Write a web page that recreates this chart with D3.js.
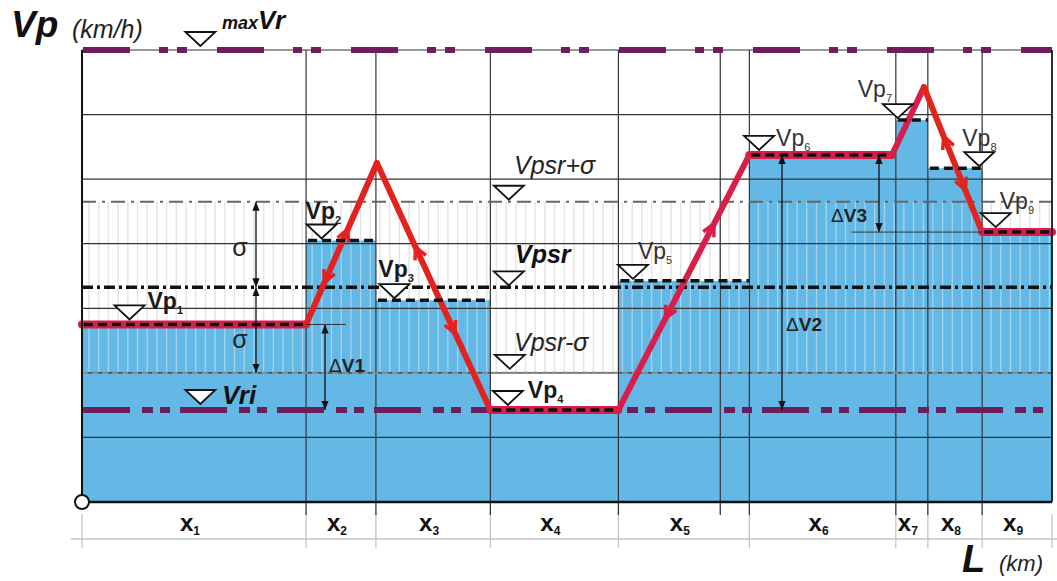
<!DOCTYPE html>
<html>
<head>
<meta charset="utf-8">
<script src="https://cdn.jsdelivr.net/npm/d3@7"></script>
<style>
body { margin: 0; background: #fff; }
text { font-family: "Liberation Sans", Arial, sans-serif; }
</style>
</head>
<body>
<svg id="chart" width="1057" height="581"></svg>
<script>
// section borders along the road (km) and the extra grid line inside x5
var bounds = [0, 23.1, 30.3, 42.1, 55.3, 68.8, 83.9, 87.2, 92.8, 100];
var extraGrid = [65.8];
var sections = ["1", "2", "3", "4", "5", "6", "7", "8", "9"];
// design speed of each section Vp_i (km/h)
var vp = [55, 81, 62.5, 28.5, 68.5, 107.5, 118.3, 103.4, 83.6];
// operating speed profile (red line)
var speedL = [0, 23.1, 30.4, 42.1, 55.3, 68.8, 83.5, 86.8, 92.8, 100];
var speedV = [55, 55, 105, 28.5, 28.5, 107.5, 107.5, 128.5, 83.6, 83.6];
var gridV = [20, 40, 60, 80, 100, 120, 140];
var maxVr = 140, vri = 28.5, vpsr = 66.5, sigma = 26.5;
// where the Vp_i marks sit along L
var markL = [4.9, 24.7, 32.2, 43.9, 56.8, 69.8, 84.1, 92.5, 94.2];
// direction arrows on the speed profile: segment, position, sense
var arrows = [
  {seg: 1, t: 0.59, dir: 1}, {seg: 1, t: 0.26, dir: -1},
  {seg: 2, t: 0.34, dir: -1}, {seg: 2, t: 0.69, dir: 1},
  {seg: 4, t: 0.73, dir: 1}, {seg: 4, t: 0.36, dir: -1},
  {seg: 7, t: 0.34, dir: -1}, {seg: 7, t: 0.71, dir: 1}
];

var svg = d3.select("#chart");
var x = d3.scaleLinear().domain([0, 100]).range([82, 1052]);
var y = d3.scaleLinear().domain([0, 140]).range([502, 50]);

var purple = "#6e1d5d", blue = "#64b8e6";

// hatch band between Vpsr-sigma and Vpsr+sigma
var hatchX = d3.range(x(0) + 7, x(100), 9.7);
svg.append("g").selectAll("line").data(hatchX).enter().append("line")
  .attr("x1", d => d).attr("x2", d => d)
  .attr("y1", y(vpsr + sigma)).attr("y2", y(vpsr - sigma))
  .attr("stroke", "#d2d2d2").attr("stroke-width", 1.2);

// blue blocks Vp_i
svg.append("g").selectAll("rect").data(vp).enter().append("rect")
  .attr("x", (d, i) => x(bounds[i]))
  .attr("width", (d, i) => x(bounds[i + 1]) - x(bounds[i]))
  .attr("y", d => y(d))
  .attr("height", d => y(0) - y(d))
  .attr("fill", blue);

svg.append("g").selectAll("line").data(hatchX).enter().append("line")
  .attr("x1", d => d).attr("x2", d => d)
  .attr("y1", y(vpsr + sigma)).attr("y2", y(vpsr - sigma))
  .attr("stroke", "#fff").attr("stroke-opacity", 0.4).attr("stroke-width", 1.3);

// grid
svg.append("g").selectAll("line").data(gridV).enter().append("line")
  .attr("x1", x(0)).attr("x2", x(100))
  .attr("y1", d => y(d)).attr("y2", d => y(d))
  .attr("stroke", "#333").attr("stroke-width", 1.2);
svg.append("g").selectAll("line").data(bounds.concat(extraGrid)).enter().append("line")
  .attr("x1", d => x(d)).attr("x2", d => x(d))
  .attr("y1", y(140)).attr("y2", y(0))
  .attr("stroke", "#333").attr("stroke-width", 1.2);

// bottom distance axis with section labels
var axisG = svg.append("g");
axisG.append("line").attr("x1", 71).attr("x2", 1057).attr("y1", 539).attr("y2", 539)
  .attr("stroke", "#c4c4c4").attr("stroke-width", 1.5);
axisG.selectAll(".lt").data(bounds).enter().append("line")
  .attr("x1", d => x(d)).attr("x2", d => x(d)).attr("y1", 514).attr("y2", 548)
  .attr("stroke", "#c4c4c4").attr("stroke-width", 1.3);
axisG.selectAll(".dt").data(bounds.slice(1, 9).concat(extraGrid)).enter().append("line")
  .attr("x1", d => x(d)).attr("x2", d => x(d)).attr("y1", y(0)).attr("y2", 515)
  .attr("stroke", "#333").attr("stroke-width", 1.3);
var xl = axisG.selectAll(".xl").data(sections).enter().append("text")
  .attr("x", (d, i) => (x(bounds[i]) + x(bounds[i + 1])) / 2 - 4)
  .attr("y", 531).attr("text-anchor", "middle")
  .style("font-size", "24px").style("font-weight", "bold").attr("fill", "#111");
xl.append("tspan").text("x");
xl.append("tspan").attr("dy", 4).style("font-size", "12px").text(d => d);

// sigma band lines
svg.append("line").attr("x1", x(0)).attr("x2", x(100))
  .attr("y1", y(vpsr + sigma)).attr("y2", y(vpsr + sigma))
  .attr("stroke", "#666").attr("stroke-width", 2).attr("stroke-dasharray", "14,6,3,6");
svg.append("line").attr("x1", x(0)).attr("x2", x(100))
  .attr("y1", y(vpsr - sigma)).attr("y2", y(vpsr - sigma))
  .attr("stroke", "#8a8a8a").attr("stroke-width", 2.2).attr("stroke-dasharray", "6,4");
svg.append("line").attr("x1", x(0)).attr("x2", x(100))
  .attr("y1", y(vpsr)).attr("y2", y(vpsr))
  .attr("stroke", "#111").attr("stroke-width", 3.5).attr("stroke-dasharray", "11,4,3,4");

// purple limits maxVr and Vri
svg.append("line").attr("x1", x(0) + 1).attr("x2", x(100))
  .attr("y1", y(maxVr)).attr("y2", y(maxVr))
  .attr("stroke", purple).attr("stroke-width", 6).attr("stroke-dasharray", "47,29,9,9,10,30");
svg.append("line").attr("x1", x(0) + 1).attr("x2", x(100))
  .attr("y1", y(vri)).attr("y2", y(vri))
  .attr("stroke", purple).attr("stroke-width", 6).attr("stroke-dasharray", "47,12,11,7,10,10");

// speed profile
var pts = speedL.map((d, i) => [x(d), y(speedV[i])]);
var segCol = ["#d81f4b", "#e3221f", "#e3221f", "#d81f4b", "#d81f4b", "#d81f4b", "#d81f4b", "#e0251f", "#d81f4b"];
svg.append("g").selectAll("line").data(pts.slice(0, -1)).enter().append("line")
  .attr("x1", d => d[0]).attr("y1", d => d[1])
  .attr("x2", (d, i) => pts[i + 1][0]).attr("y2", (d, i) => pts[i + 1][1])
  .attr("stroke", (d, i) => segCol[i])
  .attr("stroke-width", (d, i) => pts[i + 1][1] === d[1] ? 8 : 6)
  .attr("stroke-linecap", "round");

// direction chevrons
svg.append("g").selectAll("path").data(arrows).enter().append("path")
  .attr("d", a => {
    var p0 = pts[a.seg], p1 = pts[a.seg + 1];
    var px = p0[0] + (p1[0] - p0[0]) * a.t, py = p0[1] + (p1[1] - p0[1]) * a.t;
    var len = Math.hypot(p1[0] - p0[0], p1[1] - p0[1]);
    var ux = (p1[0] - p0[0]) / len * a.dir, uy = (p1[1] - p0[1]) / len * a.dir;
    var nx = -uy, ny = ux;
    return "M" + (px - 12 * ux + 6 * nx) + "," + (py - 12 * uy + 6 * ny) +
      "L" + px + "," + py +
      "L" + (px - 12 * ux - 6 * nx) + "," + (py - 12 * uy - 6 * ny);
  })
  .attr("fill", "none").attr("stroke", (a) => segCol[a.seg]).attr("stroke-width", 3.5);

// black dashed Vp_i levels
svg.append("g").selectAll("line").data(vp).enter().append("line")
  .attr("x1", (d, i) => x(bounds[i]) + 2).attr("x2", (d, i) => x(i === 5 ? 83.3 : bounds[i + 1]))
  .attr("y1", d => y(d)).attr("y2", d => y(d))
  .attr("stroke", "#111").attr("stroke-width", 3.5).attr("stroke-dasharray", "9,5");

// dimension arrows
svg.append("defs").append("marker").attr("id", "ah")
  .attr("viewBox", "0 0 10 10").attr("refX", 10).attr("refY", 5)
  .attr("markerWidth", 7).attr("markerHeight", 8).attr("orient", "auto-start-reverse")
  .append("path").attr("d", "M0,1L10,5L0,9Z").attr("fill", "#111");

function dim(L, v0, v1) {
  svg.append("line").attr("x1", x(L)).attr("x2", x(L))
    .attr("y1", y(v0)).attr("y2", y(v1))
    .attr("stroke", "#111").attr("stroke-width", 1.3)
    .attr("marker-start", "url(#ah)").attr("marker-end", "url(#ah)");
}
dim(x.invert(256), vpsr + sigma, vpsr);
dim(x.invert(256), vpsr, vpsr - sigma);
dim(x.invert(325), vp[0], vri);
dim(x.invert(782), vp[5], vri);
dim(x.invert(879), vp[5], vp[8]);
svg.append("line").attr("x1", x(bounds[1])).attr("x2", x(bounds[1]) + 40)
  .attr("y1", y(vp[0])).attr("y2", y(vp[0])).attr("stroke", "#333").attr("stroke-width", 1);
svg.append("line").attr("x1", 852).attr("x2", x(bounds[8]))
  .attr("y1", y(vp[8])).attr("y2", y(vp[8])).attr("stroke", "#333").attr("stroke-width", 1);

svg.append("text").attr("x", 240).attr("y", 256).attr("text-anchor", "middle")
  .style("font-size", "25px").attr("fill", "#222").text("σ");
svg.append("text").attr("x", 240).attr("y", 348).attr("text-anchor", "middle")
  .style("font-size", "25px").attr("fill", "#222").text("σ");

function dlabel(px, py, n) {
  var t = svg.append("text").attr("x", px).attr("y", py).style("font-size", "19px").attr("fill", "#222");
  t.append("tspan").text("Δ");
  t.append("tspan").style("font-weight", "bold").text("V" + n);
}
dlabel(329, 372, 1);
dlabel(786, 331, 2);
dlabel(831, 222, 3);

// inverted triangle marks
function tri(px, lineY) {
  var ay = lineY - 2;
  svg.append("path")
    .attr("d", "M" + (px - 15) + "," + (ay - 14) + "L" + (px + 15) + "," + (ay - 14) + "L" + px + "," + ay + "Z")
    .attr("fill", "#fff").attr("stroke", "#111").attr("stroke-width", 1.8);
}

var vpLab = [[18, -15], [-16, -21], [-16, -23], [20, -12], [5, -22], [17, -9], [-40, -23], [-17, -22], [4, -23]];
vp.forEach((v, i) => {
  tri(x(markL[i]), y(v) - (i === 0 || i === 3 || i === 5 || i === 8 ? 3 : 0));
  var bold = i < 4;
  var t = svg.append("text")
    .attr("x", x(markL[i]) + vpLab[i][0]).attr("y", y(v) + vpLab[i][1])
    .style("font-size", "23px").style("font-weight", bold ? "bold" : "normal")
    .attr("fill", bold ? "#1a1a1a" : "#333");
  t.append("tspan").text("Vp");
  t.append("tspan").attr("dy", 5).style("font-size", "11px").text(i + 1);
});

// level marks
tri(x(12.2), y(maxVr) - 2);
tri(x(12.2), y(vri) - 4);
tri(x(44), y(vpsr + sigma));
tri(x(44), y(vpsr));
tri(x(44.1), y(vpsr - sigma) - 2);

var mx = svg.append("text").attr("x", 222).attr("y", 29).attr("fill", "#111")
  .style("font-style", "italic").style("font-weight", "bold");
mx.append("tspan").style("font-size", "18px").text("max");
mx.append("tspan").style("font-size", "26px").text("Vr");
svg.append("text").attr("x", 222).attr("y", 404).attr("fill", "#111")
  .style("font-style", "italic").style("font-weight", "bold").style("font-size", "26px").text("Vri");
svg.append("text").attr("x", 514).attr("y", 174).attr("fill", "#222")
  .style("font-style", "italic").style("font-size", "25px").text("Vpsr+σ");
svg.append("text").attr("x", 515).attr("y", 263).attr("fill", "#111")
  .style("font-style", "italic").style("font-weight", "bold").style("font-size", "25px").text("Vpsr");
svg.append("text").attr("x", 514).attr("y", 351).attr("fill", "#222")
  .style("font-style", "italic").style("font-size", "25px").text("Vpsr-σ");

// frame
svg.append("line").attr("x1", x(0)).attr("x2", x(0)).attr("y1", y(140)).attr("y2", y(0))
  .attr("stroke", "#111").attr("stroke-width", 2);
svg.append("line").attr("x1", x(100)).attr("x2", x(100)).attr("y1", y(140)).attr("y2", y(0))
  .attr("stroke", "#111").attr("stroke-width", 1.5);
svg.append("line").attr("x1", x(0)).attr("x2", x(100)).attr("y1", y(0)).attr("y2", y(0))
  .attr("stroke", "#111").attr("stroke-width", 2.5);
svg.append("circle").attr("cx", x(0)).attr("cy", y(0)).attr("r", 7)
  .attr("fill", "#fff").attr("stroke", "#111").attr("stroke-width", 2);

// axis titles
svg.append("text").attr("x", 11).attr("y", 37).attr("fill", "#111")
  .style("font-style", "italic").style("font-weight", "bold").style("font-size", "37px").text("Vp");
svg.append("text").attr("x", 72).attr("y", 38).attr("fill", "#222")
  .style("font-style", "italic").style("font-size", "25px").text("(km/h)");
svg.append("text").attr("x", 962).attr("y", 572).attr("fill", "#111")
  .style("font-style", "italic").style("font-weight", "bold").style("font-size", "38px").text("L");
svg.append("text").attr("x", 999).attr("y", 571).attr("fill", "#222")
  .style("font-style", "italic").style("font-size", "22px").text("(km)");
</script>
</body>
</html>
